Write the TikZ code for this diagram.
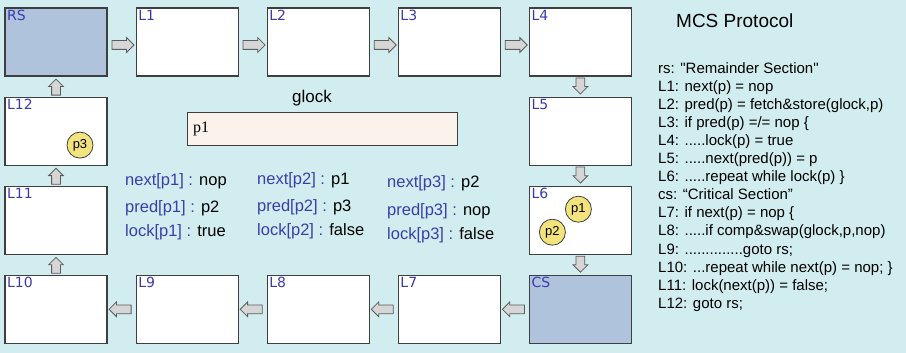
\documentclass[tikz,border=0pt]{standalone}
\usepackage{fontspec}
\setmainfont{Liberation Sans}
\newfontfamily\codefont{Liberation Sans}
\newfontfamily\lblfont{DejaVu Sans}
\newfontfamily\pfont{Liberation Serif}
\usetikzlibrary{positioning,calc,shapes.arrows}

\definecolor{bgcyan}{HTML}{D2EDF0}
\definecolor{csblue}{HTML}{B0C3DD}
\definecolor{lblblue}{HTML}{3B3BB0}
\definecolor{varblue}{HTML}{3A3FA8}
\definecolor{lockfill}{HTML}{FCF2EC}
\definecolor{procfill}{HTML}{F3E37C}
\definecolor{arrowfill}{HTML}{D6D6D6}
\definecolor{edge}{HTML}{3F3F3F}

\tikzset{
  stepbox/.style={draw=edge, line width=1.1pt, fill=white, inner sep=0pt,
    minimum width=102pt, minimum height=68pt,
    label={[anchor=north west, inner sep=2.5pt, text=lblblue,
      font=\lblfont\fontsize{14}{14}\selectfont]north west:#1}},
  harrow/.style={single arrow, draw=edge!85, fill=arrowfill, line width=0.8pt,
    minimum height=22pt, inner sep=0pt, inner ysep=4pt,
    single arrow head extend=3pt, single arrow head indent=0pt, anchor=tip},
  varrow/.style={harrow, minimum height=16pt},
  proc/.style={circle, draw=edge, line width=0.8pt, fill=procfill,
    minimum size=26pt, inner sep=0pt, font=\fontsize{13}{13}\selectfont},
  var/.style={anchor=west, inner sep=0pt, font=\fontsize{16.5}{16.5}\selectfont}
}

\begin{document}
\begin{tikzpicture}[x=1pt, y=1pt, node distance=20pt and 28pt]
    \fill[bgcyan] (0,0) rectangle (906,-353);
    \useasboundingbox (0,0) rectangle (906,-353);
    %
    \node[stepbox=RS, fill=csblue] (RS) at (56,-42) {};
    \node[stepbox=L1, right=of RS] (L1) {};
    \node[stepbox=L2, right=of L1] (L2) {};
    \node[stepbox=L3, right=of L2] (L3) {};
    \node[stepbox=L4, right=of L3] (L4) {};
    \node[stepbox=L5, below=of L4] (L5) {};
    \node[stepbox=L6, below=of L5] (L6) {};
    \node[stepbox=CS, fill=csblue, below=of L6] (CS) {};
    \node[stepbox=L12, below=of RS] (L12) {};
    \node[stepbox=L11, below=of L12] (L11) {};
    \node[stepbox=L10, below=of L11] (L10) {};
    \node[stepbox=L9, right=of L10] (L9) {};
    \node[stepbox=L8, right=of L9] (L8) {};
    \node[stepbox=L7, right=of L8] (L7) {};
    %
    \node[harrow] at ([xshift=-1pt,yshift=-3pt]L1.west) {};
    \node[harrow] at ([xshift=-1pt,yshift=-3pt]L2.west) {};
    \node[harrow] at ([xshift=-1pt,yshift=-3pt]L3.west) {};
    \node[harrow] at ([xshift=-1pt,yshift=-3pt]L4.west) {};
    \node[varrow, rotate=-90] at ([yshift=2pt]L5.north) {};
    \node[varrow, rotate=-90] at ([yshift=2pt]L6.north) {};
    \node[varrow, rotate=-90] at ([yshift=2pt]CS.north) {};
    \node[harrow, rotate=180] at ([xshift=1pt]L7.east) {};
    \node[harrow, rotate=180] at ([xshift=1pt]L8.east) {};
    \node[harrow, rotate=180] at ([xshift=1pt]L9.east) {};
    \node[harrow, rotate=180] at ([xshift=1pt]L10.east) {};
    \node[varrow, rotate=90] at ([yshift=-2pt]L11.south) {};
    \node[varrow, rotate=90] at ([yshift=-2pt]L12.south) {};
    \node[varrow, rotate=90] at ([yshift=-2pt]RS.south) {};
    %
    \node[proc] (p1) at ([shift={(-2pt,11pt)}]L6.center) {p1};
    \node[proc] (p2) at ([shift={(-28pt,-12pt)}]L6.center) {p2};
    \node[proc] (p3) at ([shift={(24pt,-14pt)}]L12.center) {p3};
    %
    \node[draw=edge, line width=0.9pt, fill=lockfill, minimum width=270pt,
      minimum height=33pt, inner sep=0pt] (glock) at (322,-128.5) {};
    \node[anchor=west, font=\pfont\fontsize{16}{16}\selectfont] at ([xshift=3pt]glock.west) {p1};
    \node[above=2pt of glock, xshift=-10pt, font=\fontsize{17}{17}\selectfont] (glocklbl) {glock};
    %
    \node[var] (n1) at (125,-181) {\textcolor{varblue}{next[p1] :} nop};
    \node[var] (d1) at (125,-208) {\textcolor{varblue}{pred[p1] :} p2};
    \node[var] (k1) at (125,-232) {\textcolor{varblue}{lock[p1] :} true};
    \node[var] (n2) at (257,-180) {\textcolor{varblue}{next[p2] :} p1};
    \node[var] (d2) at (257,-207) {\textcolor{varblue}{pred[p2] :} p3};
    \node[var] (k2) at (257,-231) {\textcolor{varblue}{lock[p2] :} false};
    \node[var] (n3) at (387,-183) {\textcolor{varblue}{next[p3] :} p2};
    \node[var] (d3) at (387,-211) {\textcolor{varblue}{pred[p3] :} nop};
    \node[var] (k3) at (387,-235) {\textcolor{varblue}{lock[p3] :} false};
    %
    \node[anchor=west, inner sep=0pt, font=\fontsize{19}{19}\selectfont] (title) at (676,-21) {MCS Protocol};
    \node[anchor=north west, inner sep=0pt, align=left,
      font=\codefont\fontsize{15}{18.1}\selectfont] (code) at (658,-62) {%
      rs: "Remainder Section"\\
      L1: next(p) = nop\\
      L2: pred(p) = fetch\&store(glock,p)\\
      L3: if pred(p) =/= nop \{\\
      L4: .....lock(p) = true\\
      L5: .....next(pred(p)) = p\\
      L6: .....repeat while lock(p) \}\\
      cs: “Critical Section”\\
      L7: if next(p) = nop \{\\
      L8: .....if comp\&swap(glock,p,nop)\\
      L9: ..............goto rs;\\
      L10: ...repeat while next(p) = nop; \}\\
      L11: lock(next(p)) = false;\\
      L12: goto rs;};
\end{tikzpicture}
\end{document}
